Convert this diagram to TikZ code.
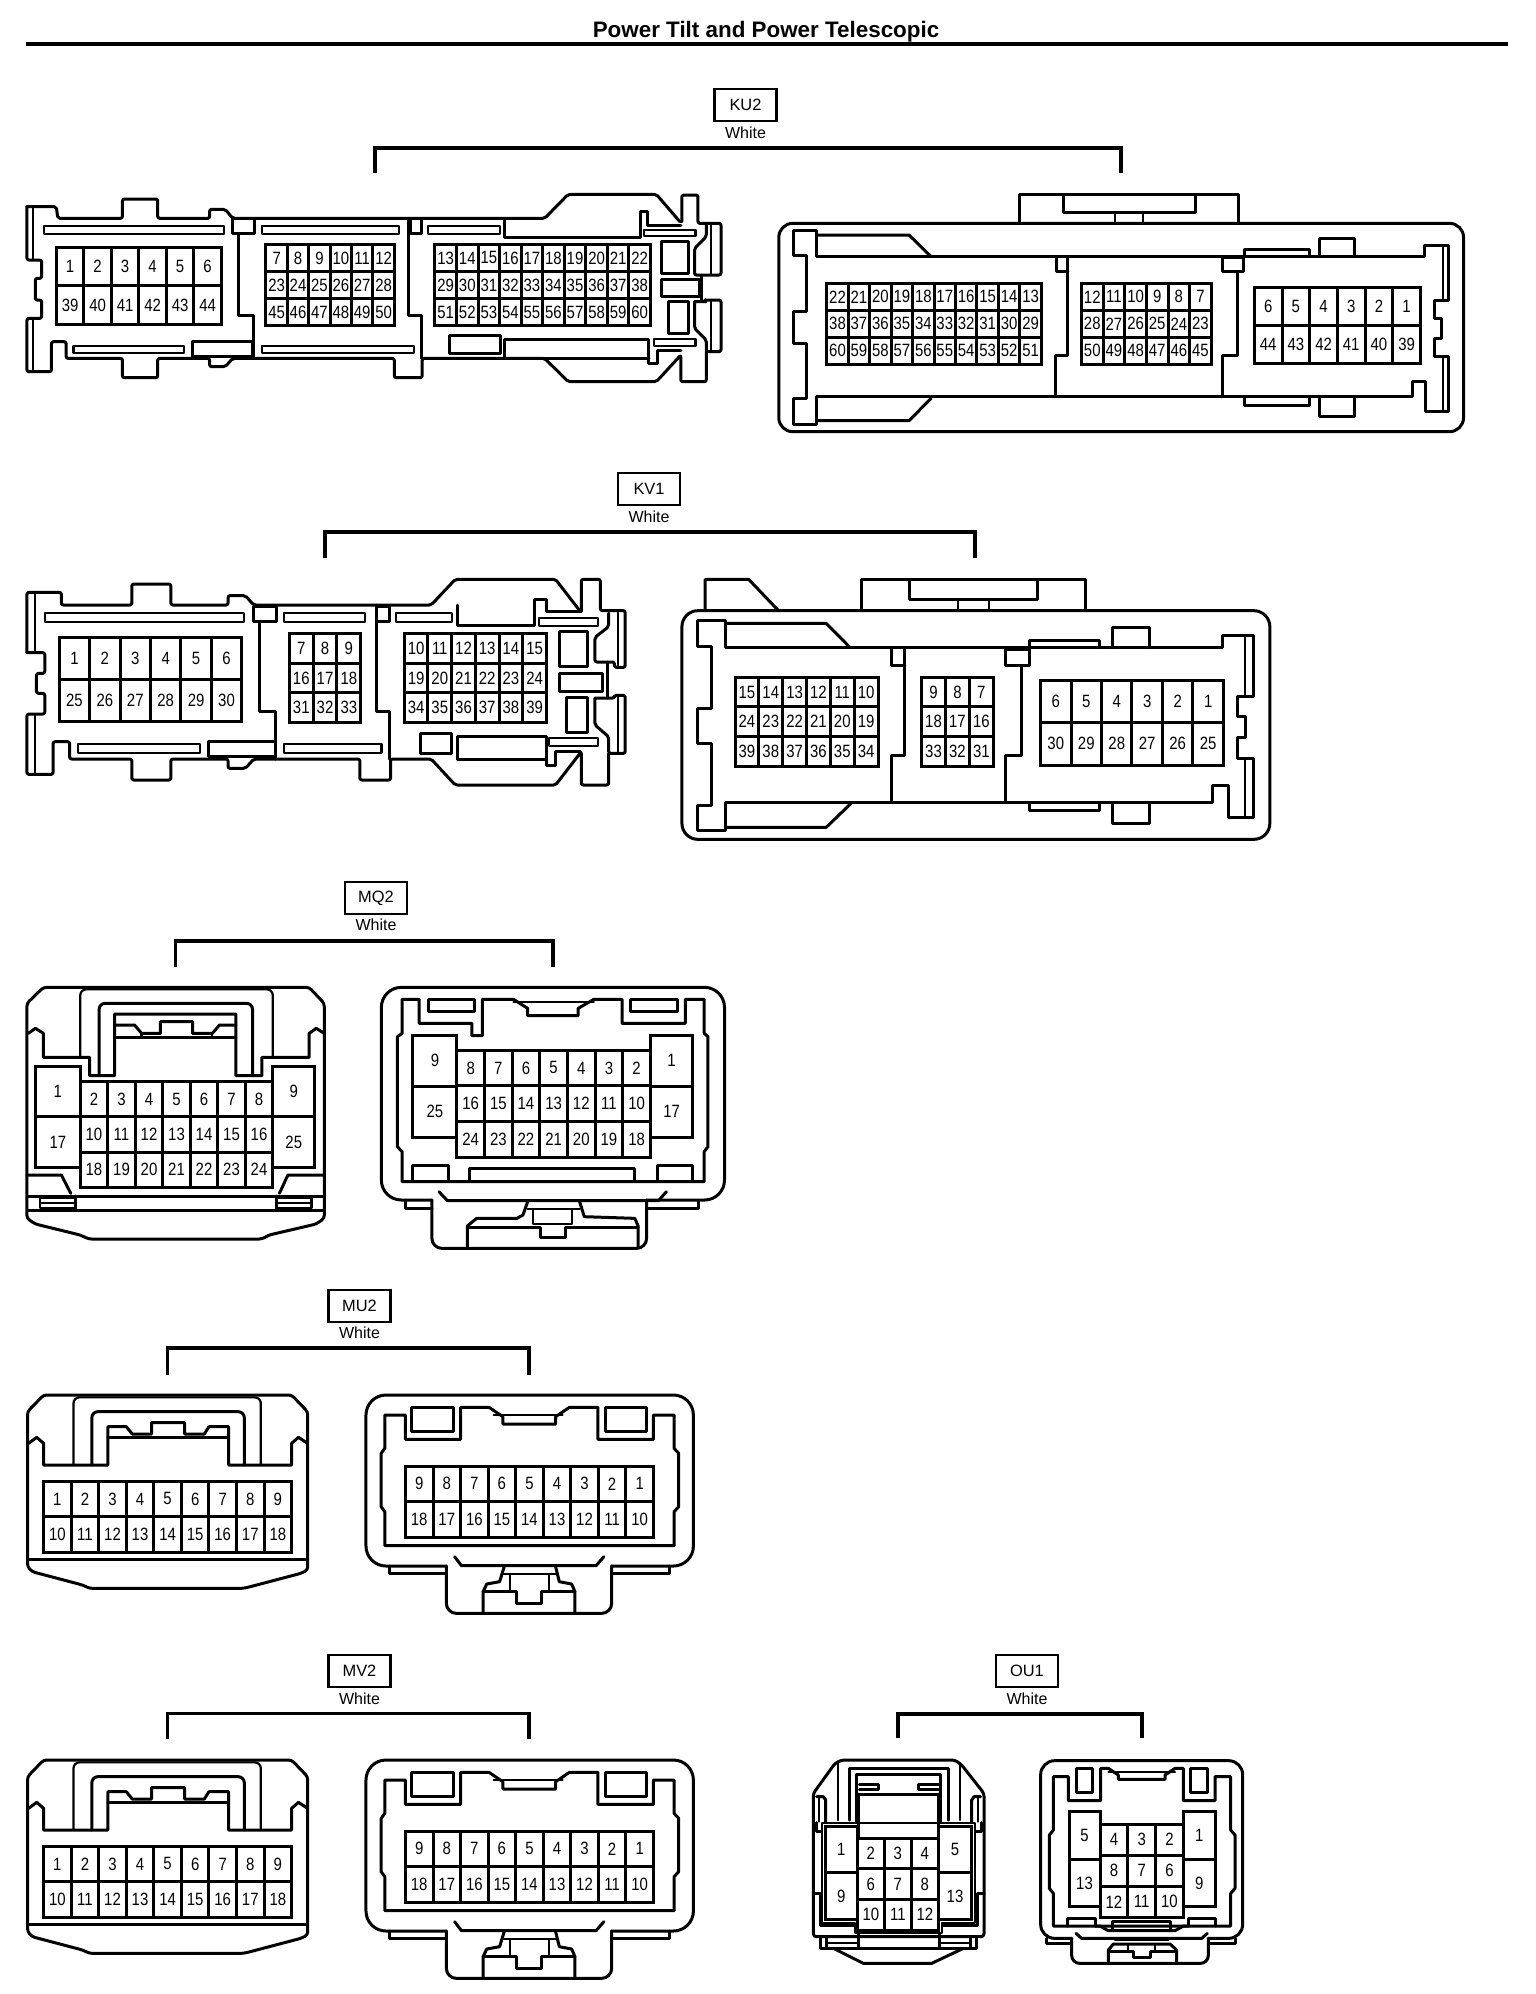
\documentclass[tikz,border=0pt]{standalone}
\usepackage{fontspec}
\usepackage{graphicx}
\setmainfont{Liberation Sans}
\tikzset{
  ln/.style={draw=black,line width=1.5pt,line join=round,line cap=round},
  thn/.style={draw=black,line width=1.1pt,line join=round,line cap=round},
  gr/.style={draw=black,line width=1.5pt,line join=miter},
  pin/.style={inner sep=0pt,font=\fontsize{8.9pt}{9pt}\selectfont,text=black},
  conbox/.style={draw=black,line width=1.3pt,minimum width=31pt,minimum height=16pt,inner sep=0pt,font=\fontsize{8.2pt}{9pt}\selectfont},
  wlabel/.style={inner sep=0pt,font=\fontsize{8pt}{9pt}\selectfont},
  brk/.style={draw=black,line width=1.8pt,line join=miter},
  zone/.style={x=.2449pt,y=-.16667pt},
  zthree/.style={x=.2073pt,y=-.16667pt},
  zfive/.style={x=.236pt,y=-.16667pt},
  zsix/.style={x=.2296pt,y=-.16667pt},
  zeight/.style={x=.16667pt,y=-.16667pt}
}
\newcommand{\pingrid}[8]{%
  \foreach \gi in {0,...,#6}{\draw[gr] ({#2+(#3-#2)*\gi/#6},#4) -- ({#2+(#3-#2)*\gi/#6},#5);}
  \foreach \gj in {0,...,#7}{\draw[gr] (#2,{#4+(#5-#4)*\gj/#7}) -- (#3,{#4+(#5-#4)*\gj/#7});}
  \draw[gr] (#2,#4) rectangle (#3,#5);
  \foreach \lab [count=\idx from 0] in {#8}{
    \pgfmathtruncatemacro\cc{mod(\idx,#6)}
    \pgfmathtruncatemacro\rr{int((\idx+.5)/#6)}
    \node[pin] (#1-\lab) at ({#2+(#3-#2)*(\cc+.5)/#6},{#4+(#5-#4)*(\rr+.5)/#7}) {\scalebox{.84}[1]{\lab}};
  }
}
\newcommand{\thinslot}[4]{\draw[thn] (#1,#2) rectangle (#3,#4);}
% label box, colour word and bracket, in reference pixels
\newcommand{\conhead}[8]{%
  \node[conbox] (#1box) at (#2,#3) {#1};
  \node[wlabel] (#1white) at (#2,#4) {White};
  \coordinate (#1a) at (#5,#8);
  \coordinate (#1b) at (#5,#7);
  \coordinate (#1c) at (#6,#7);
  \coordinate (#1d) at (#6,#8);
  \draw[brk] (#1a) -- (#1b) -- (#1c) -- (#1d);
}
% the pair of 18-way connectors
\newcommand{\muconn}[1]{%
  \draw[ln,rounded corners=1.5pt] (60,395)--(95,345)--(635,345)--(670,395)--(670,870)--(655,880)--(545,920)--(530,925)--(195,925)--(180,915)--(70,875)--(60,860)--cycle;
  \draw[ln] (62,490)--(80,472)--(95,490)--(95,555)--(235,555)--(235,440)--(275,440)--(288,462)--(330,462)--(330,428)--(402,428)--(402,462)--(445,462)--(455,440)--(498,440)--(498,555)--(635,555)--(635,490)--(650,472)--(670,490);
  \draw[thn,rounded corners=3pt] (160,555)--(160,352)--(568,352)--(568,555);
  \draw[ln,rounded corners=3pt] (200,555)--(200,395)--(532,395)--(532,555);
  \draw[ln] (235,473)--(498,473);
  \draw[ln] (60,838)--(670,838);
  \pingrid{#1a}{95}{635}{603}{818}{9}{2}{1,2,3,4,5,6,7,8,9,10,11,12,13,14,15,16,17,18}
  \draw[ln] (848,858)--(848,880)--(972,880);
  \draw[ln] (1332,880)--(1458,880)--(1458,858);
  \draw[ln,rounded corners=10pt] (972,858)--(797,858)--(797,345)--(1510,345)--(1510,858)--(1332,858);
  \draw[ln,rounded corners=5pt] (972,858)--(972,1000)--(1332,1000)--(1332,858);
  \draw[ln] (838,405)--(883,405)--(883,478)--(1003,478)--(1003,382)--(1065,382)--(1095,410)--(1095,432)--(1210,432)--(1210,410)--(1240,382)--(1302,382)--(1302,478)--(1423,478)--(1423,405)--(1468,405)--(1468,505)--(1478,520)--(1478,680)--(1468,695)--(1468,797)--(838,797)--(838,695)--(830,680)--(830,520)--(838,505)--cycle;
  \draw[ln] (897,382) rectangle (988,455);
  \draw[ln] (1318,382) rectangle (1408,455);
  \draw[thn] (1075,405)--(1225,405);
  \pingrid{#1b}{883}{1423}{558}{772}{9}{2}{9,8,7,6,5,4,3,2,1,18,17,16,15,14,13,12,11,10}
  \draw[ln] (990,830)--(1005,857)--(1298,857)--(1315,830);
  \draw[ln] (1098,860)--(1088,905)--(1060,912)--(1052,935)--(1052,998);
  \draw[ln] (1210,860)--(1218,905)--(1245,912)--(1252,935)--(1252,998);
  \draw[ln] (1052,935)--(1125,935)--(1125,970)--(1180,970)--(1180,935)--(1252,935);
  \draw[thn] (1110,885)--(1110,935);
  \draw[thn] (1195,885)--(1195,935);
  \draw[thn] (1095,882)--(1212,882);
}
\begin{document}
\begin{tikzpicture}[x=.5pt,y=-.5pt]
\useasboundingbox (0,0) rectangle (1536,1994);
\fill[white] (0,0) rectangle (1536,1994);
\node[inner sep=0pt,font=\fontsize{11.2pt}{12pt}\selectfont\bfseries] (title) at (766,32) {Power Tilt and Power Telescopic};
\coordinate (ruleL) at (26,44);
\coordinate (ruleR) at (1508,44);
\draw[line width=2.4pt] (ruleL) -- (ruleR);
\conhead{KU2}{745.5}{105}{133}{375}{1121}{148}{173}
\conhead{KV1}{649}{489}{517}{325}{975}{532}{558}
\conhead{MQ2}{376}{898}{925}{175.5}{553}{941}{967}
\conhead{MU2}{359.5}{1306}{1333}{167.6}{529}{1348}{1374.5}
\conhead{MV2}{359.5}{1671}{1699}{167.6}{529}{1713.5}{1738.5}
\conhead{OU1}{1027}{1671}{1699}{898}{1142}{1714}{1738}

% ---------- KU2 left
\begin{scope}[zone]
\draw[ln,rounded corners=1pt] (55,620)--(115,620)--(118,655)--(250,655)--(250,597)--(322,597)--(322,655)--(428,655)--(428,628)--(460,628)--(475,655)--(1112,655)--(1160,583)--(1340,583)--(1388,665);
\draw[ln,rounded corners=1pt] (1392,665)--(1392,585)--(1425,585)--(1425,670)--(1472,670)--(1472,825)--(1418,825)--(1418,745)--(1442,710)--(1442,672);
\draw[ln] (1432,825)--(1432,905);
\draw[ln,rounded corners=1pt] (1418,905)--(1440,905)--(1440,900)--(1472,900)--(1472,1055)--(1442,1055)--(1442,1020)--(1418,985)--(1418,905);
\draw[ln,rounded corners=1pt] (1442,1055)--(1442,1145)--(1390,1145)--(1390,1065)--(1340,1145)--(1160,1145)--(1112,1075)--(862,1075)--(862,1133)--(805,1133)--(805,1075)--(475,1075)--(460,1100)--(428,1100)--(428,1075)--(322,1075)--(322,1133)--(250,1133)--(250,1075)--(135,1075)--(135,1025)--(105,1025)--(105,1115)--(55,1115)--(55,955)--(85,955)--(85,900)--(72,900)--(72,835)--(85,835)--(85,780)--(55,780)--(55,620);
\draw[thn] (68,625)--(68,780);
\draw[thn] (68,955)--(68,1112);
\draw[thn] (1452,672)--(1452,825);
\draw[thn] (1452,902)--(1452,1055);
\thinslot{90}{678}{457}{702}
\thinslot{150}{1037}{375}{1060}
\thinslot{535}{678}{815}{702}
\thinslot{535}{1037}{845}{1060}
\thinslot{873}{678}{1020}{702}
\draw[ln] (475,655) rectangle (520,700);
\draw[ln] (487,700)--(487,945)--(518,945)--(518,1075);
\draw[ln] (392,1025) rectangle (515,1068);
\draw[ln] (838,655) rectangle (860,700);
\draw[ln] (835,655)--(835,945)--(860,945)--(860,1075);
\draw[ln] (1030,655)--(1030,712)--(1308,712)--(1308,635)--(1322,635)--(1322,675)--(1390,675);
\thinslot{1315}{690}{1420}{708}
\draw[ln] (1350,725) rectangle (1405,820);
\draw[ln] (1350,838) rectangle (1428,888);
\draw[ln] (1365,905) rectangle (1405,1000);
\draw[ln] (918,1005) rectangle (1022,1060);
\draw[ln] (1030,1075)--(1030,1018)--(1325,1018)--(1325,1090)--(1342,1090)--(1342,1050)--(1390,1050);
\draw[ln] (1030,1075)--(1325,1075);
\thinslot{1335}{1018}{1420}{1037}
\pingrid{ku2a}{115}{452}{742}{973}{6}{2}{1,2,3,4,5,6,39,40,41,42,43,44}
\pingrid{ku2b}{543}{805}{733}{977}{6}{3}{7,8,9,10,11,12,23,24,25,26,27,28,45,46,47,48,49,50}
\pingrid{ku2c}{888}{1328}{733}{977}{10}{3}{13,14,15,16,17,18,19,20,21,22,29,30,31,32,33,34,35,36,37,38,51,52,53,54,55,56,57,58,59,60}
\end{scope}

% ---------- KU2 right
\begin{scope}[zone,xshift=384pt]
\draw[ln,rounded corners=7pt] (22,670) rectangle (1420,1295);
\draw[ln] (513,670)--(513,583)--(960,583)--(960,670);
\draw[ln] (603,588)--(603,638)--(873,638)--(873,588);
\draw[thn] (708,638)--(708,668);
\draw[thn] (766,638)--(766,668);
\draw[ln] (52,692)--(100,692)--(100,770)--(1340,770)--(1340,735)--(1390,735)--(1390,900)--(1360,900)--(1360,955)--(1375,955)--(1375,1015)--(1360,1015)--(1360,1070)--(1390,1070)--(1390,1235)--(1342,1235)--(1342,1145)--(1315,1145)--(1315,1190)--(100,1190)--(100,1272)--(52,1272)--(52,1195)--(78,1195)--(78,1030)--(52,1030)--(52,935)--(78,935)--(78,765)--(52,765)--cycle;
\draw[ln] (100,705)--(288,705)--(333,770);
\draw[ln] (100,1262)--(288,1262)--(333,1195);
\draw[ln] (588,772)--(588,815)--(612,815);
\draw[ln] (612,772)--(612,1065)--(586,1065)--(586,1190);
\draw[ln] (928,772) rectangle (970,815);
\draw[ln] (958,815)--(958,1065)--(928,1065)--(928,1190);
\draw[ln] (972,770)--(972,748)--(1105,748)--(1105,770);
\draw[ln] (1125,770)--(1125,715)--(1197,715)--(1197,770);
\draw[ln] (972,1190)--(972,1215)--(1105,1215)--(1105,1190);
\draw[ln] (1125,1190)--(1125,1248)--(1197,1248)--(1197,1190);
\draw[thn] (1378,738)--(1378,900);
\draw[thn] (1378,1070)--(1378,1232);
\pingrid{ku2d}{120}{558}{850}{1093}{10}{3}{22,21,20,19,18,17,16,15,14,13,38,37,36,35,34,33,32,31,30,29,60,59,58,57,56,55,54,53,52,51}
\pingrid{ku2e}{640}{905}{850}{1093}{6}{3}{12,11,10,9,8,7,28,27,26,25,24,23,50,49,48,47,46,45}
\pingrid{ku2f}{993}{1332}{862}{1090}{6}{2}{6,5,4,3,2,1,44,43,42,41,40,39}
\end{scope}

% ---------- KV1 left
\begin{scope}[zthree,yshift=-230pt]
\draw[ln,rounded corners=1pt] (65,578)--(65,397)--(148,397)--(148,435)--(318,435)--(318,372)--(412,372)--(412,435)--(550,435)--(550,407)--(592,407)--(612,435)--(1040,435)--(1098,358)--(1340,358)--(1400,455);
\draw[ln,rounded corners=1pt] (1402,455)--(1402,358)--(1448,358)--(1448,452)--(1508,452)--(1508,622)--(1482,622)--(1482,606)--(1435,606)--(1435,532)--(1468,500)--(1468,460);
\draw[ln] (1465,606)--(1465,714);
\draw[ln,rounded corners=1pt] (1435,714)--(1482,714)--(1482,706)--(1508,706)--(1508,880)--(1468,880)--(1468,830)--(1435,795)--(1435,714);
\draw[ln,rounded corners=1pt] (1468,880)--(1468,975)--(1402,975)--(1402,875)--(1340,975)--(1098,975)--(1040,897)--(942,897)--(942,960)--(868,960)--(868,897)--(612,897)--(592,925)--(550,925)--(550,897)--(412,897)--(412,960)--(318,960)--(318,897)--(168,897)--(168,845)--(128,845)--(128,943)--(65,943)--(65,762)--(108,762)--(108,700)--(88,700)--(88,640)--(108,640)--(108,578)--(65,578);
\draw[thn] (85,402)--(85,575);
\draw[thn] (85,765)--(85,940);
\draw[thn] (1490,458)--(1490,620);
\draw[thn] (1490,708)--(1490,880);
\thinslot{108}{460}{588}{485}
\thinslot{188}{853}{482}{880}
\thinslot{685}{460}{880}{485}
\thinslot{685}{853}{920}{880}
\thinslot{955}{460}{1090}{485}
\draw[ln] (612,440) rectangle (668,485);
\draw[ln] (625,485)--(625,755)--(665,755)--(665,897);
\draw[ln] (502,845) rectangle (665,890);
\draw[ln] (908,440) rectangle (940,485);
\draw[ln] (908,435)--(908,755)--(940,755)--(940,897);
\draw[ln] (1103,435)--(1103,497)--(1290,497)--(1290,418)--(1318,418)--(1318,455)--(1400,455);
\thinslot{1300}{475}{1442}{497}
\draw[ln] (1350,515) rectangle (1418,618);
\draw[ln] (1350,640) rectangle (1452,693);
\draw[ln] (1367,712) rectangle (1418,818);
\draw[ln] (1015,820) rectangle (1090,880);
\draw[ln] (1103,897)--(1103,830)--(1318,830)--(1318,915)--(1340,915)--(1340,875)--(1400,875);
\draw[ln] (1103,897)--(1318,897);
\thinslot{1325}{835}{1442}{858}
\pingrid{kv1a}{143}{583}{533}{785}{6}{2}{1,2,3,4,5,6,25,26,27,28,29,30}
\pingrid{kv1b}{698}{870}{520}{788}{3}{3}{7,8,9,16,17,18,31,32,33}
\pingrid{kv1c}{975}{1318}{520}{788}{6}{3}{10,11,12,13,14,15,19,20,21,22,23,24,34,35,36,37,38,39}
\end{scope}

% ---------- KV1 right
\begin{scope}[zthree,xshift=325pt,yshift=-230pt]
\draw[ln,rounded corners=8pt] (77,452) rectangle (1495,1138);
\draw[ln] (510,452)--(510,358)--(1050,358)--(1050,452);
\draw[ln] (625,362)--(625,417)--(935,417)--(935,362);
\draw[thn] (743,417)--(743,450);
\draw[thn] (818,417)--(818,450);
\draw[ln] (133,452)--(133,358)--(238,358)--(310,452);
\draw[ln] (115,480)--(182,480)--(182,563)--(1380,563)--(1380,527)--(1455,527)--(1455,708)--(1418,708)--(1418,770)--(1437,770)--(1437,832)--(1418,832)--(1418,895)--(1455,895)--(1455,1072)--(1395,1072)--(1395,975)--(1357,975)--(1357,1028)--(182,1028)--(182,1112)--(115,1112)--(115,1035)--(148,1035)--(148,850)--(115,850)--(115,745)--(148,745)--(148,558)--(115,558)--cycle;
\draw[ln] (182,490)--(425,490)--(483,563);
\draw[ln] (182,1102)--(425,1102)--(485,1030);
\draw[ln] (582,568)--(582,617)--(615,617);
\draw[ln] (615,568)--(615,885)--(582,885)--(582,1028);
\draw[ln] (858,568) rectangle (915,617);
\draw[ln] (897,617)--(897,885)--(858,885)--(858,1028);
\draw[ln] (915,563)--(915,540)--(1085,540)--(1085,563);
\draw[ln] (1115,563)--(1115,503)--(1205,503)--(1205,563);
\draw[ln] (915,1028)--(915,1052)--(1085,1052)--(1085,1028);
\draw[ln] (1115,1028)--(1115,1090)--(1205,1090)--(1205,1028);
\draw[thn] (1435,530)--(1435,708);
\draw[thn] (1435,895)--(1435,1068);
\pingrid{kv1d}{205}{550}{652}{918}{6}{3}{15,14,13,12,11,10,24,23,22,21,20,19,39,38,37,36,35,34}
\pingrid{kv1e}{655}{828}{652}{918}{3}{3}{9,8,7,18,17,16,33,32,31}
\pingrid{kv1f}{942}{1383}{660}{915}{6}{2}{6,5,4,3,2,1,30,29,28,27,26,25}
\end{scope}

% ---------- MQ2
\begin{scope}[zfive,yshift=-435pt]
\draw[ln,rounded corners=1.5pt] (57,400)--(92,352)--(655,352)--(687,400)--(687,1045)--(670,1062)--(570,1095)--(555,1107)--(188,1107)--(170,1095)--(75,1062)--(57,1045)--cycle;
\draw[thn,rounded corners=3pt] (170,562)--(170,358)--(578,358)--(578,562);
\draw[ln] (60,490)--(75,475)--(92,490)--(92,562)--(190,562)--(190,617)--(243,617)--(243,432)--(500,432)--(500,617)--(555,617)--(555,562)--(655,562)--(655,490)--(670,475)--(687,490);
\draw[ln,rounded corners=3pt] (210,617)--(210,400)--(535,400)--(535,617);
\draw[ln] (243,465)--(285,465)--(300,490)--(340,490)--(340,455)--(408,455)--(408,490)--(450,490)--(465,465)--(500,465);
\draw[ln] (243,503)--(500,503);
\draw[thn] (300,490)--(300,503);
\draw[thn] (450,490)--(450,503);
\draw[ln] (57,915)--(130,915)--(150,970);
\draw[ln] (687,915)--(610,915)--(592,970);
\draw[ln] (60,978)--(685,978);
\draw[ln] (60,1022)--(685,1022);
\draw[ln] (160,978)--(160,1022);
\draw[ln] (585,978)--(585,1022);
\draw[thn] (85,985) rectangle (160,1015);
\draw[thn] (85,1000)--(160,1000);
\draw[thn] (585,985) rectangle (660,1015);
\draw[thn] (585,1000)--(660,1000);
\pingrid{mq2a}{75}{170}{588}{892}{1}{2}{1,17}
\pingrid{mq2b}{578}{667}{588}{892}{1}{2}{9,25}
\pingrid{mq2c}{170}{578}{635}{952}{7}{3}{2,3,4,5,6,7,8,10,11,12,13,14,15,16,18,19,20,21,22,23,24}
\draw[ln] (915,1015)--(860,1015)--(860,990);
\draw[ln] (1370,1015)--(1480,1015)--(1480,990);
\draw[ln,rounded corners=10pt] (915,990)--(808,990)--(808,352)--(1535,352)--(1535,990)--(1370,990);
\draw[ln,rounded corners=5pt] (915,990)--(915,1135)--(1370,1135)--(1370,990);
\draw[ln] (852,388)--(888,388)--(888,460)--(1000,460)--(1000,497)--(1022,497)--(1022,388)--(1088,388)--(1118,415)--(1118,437)--(1225,437)--(1225,415)--(1258,388)--(1318,388)--(1318,460)--(1452,460)--(1452,388)--(1492,388)--(1492,490)--(1500,500)--(1500,830)--(1492,845)--(1492,935)--(852,935)--(852,845)--(842,830)--(842,500)--(852,490)--cycle;
\draw[ln] (908,388) rectangle (1005,425);
\draw[ln] (1335,388) rectangle (1435,425);
\draw[thn] (1088,397)--(1258,397);
\draw[ln] (875,935)--(875,885)--(950,885)--(950,935);
\draw[ln] (1392,935)--(1392,885)--(1468,885)--(1468,935);
\draw[ln] (995,935)--(995,895)--(1345,895)--(1345,935);
\pingrid{mq2d}{875}{968}{495}{802}{1}{2}{9,25}
\pingrid{mq2e}{1378}{1468}{495}{802}{1}{2}{1,17}
\pingrid{mq2f}{968}{1378}{540}{862}{7}{3}{8,7,6,5,4,3,2,16,15,14,13,12,11,10,24,23,22,21,20,19,18}
\draw[ln] (930,965)--(948,992)--(1395,992)--(1412,965);
\draw[ln] (1118,995)--(1108,1035)--(1095,1045)--(1010,1045)--(990,1068)--(990,1132);
\draw[ln] (1228,995)--(1238,1040)--(1345,1045)--(1352,1068)--(1352,1132);
\draw[ln] (990,1072)--(1145,1072)--(1145,1103)--(1198,1103)--(1198,1072)--(1352,1072);
\draw[thn] (1130,1020)--(1130,1062)--(1212,1062)--(1212,1020);
\draw[thn] (1118,1018)--(1228,1018);
\end{scope}

% ---------- MU2 and MV2
\begin{scope}[zsix,yshift=-640pt]
\muconn{mu2}
\end{scope}
\begin{scope}[zsix,yshift=-822.5pt]
\muconn{mv2}
\end{scope}

% ---------- OU1
\begin{scope}[zeight,xshift=390pt,yshift=-820pt]
\draw[ln,rounded corners=1.5pt] (100,460)--(165,370)--(185,360)--(525,360)--(545,375)--(612,460)--(612,890)--(100,890)--cycle;
\draw[thn] (175,368)--(175,540);
\draw[thn] (540,368)--(540,540);
\draw[ln] (208,540)--(208,385)--(505,385)--(505,540);
\draw[ln] (228,545)--(228,402)--(482,402)--(482,545);
\draw[ln] (238,432)--(295,432)--(295,448)--(238,448);
\draw[ln] (475,432)--(415,432)--(415,448)--(475,448);
\draw[ln] (235,462)--(478,462);
\draw[ln] (235,462)--(235,590);
\draw[ln] (475,462)--(475,555);
\draw[ln] (110,470)--(130,470)--(137,480)--(137,545);
\draw[ln] (602,470)--(582,470)--(575,480)--(575,545);
\draw[thn] (118,475)--(118,545);
\draw[thn] (594,475)--(594,545);
\draw[thn] (125,550)--(585,550)--(585,850)--(485,850)--(485,878)--(225,878)--(225,850)--(125,850)--cycle;
\draw[ln] (108,548)--(108,575)--(125,575);
\draw[ln] (604,548)--(604,575)--(587,575);
\draw[ln] (100,760)--(120,760)--(120,856)--(222,856);
\draw[ln] (612,760)--(592,760)--(592,856)--(488,856);
\pingrid{ou1a}{135}{232}{558}{838}{1}{2}{1,9}
\pingrid{ou1b}{475}{575}{558}{838}{1}{2}{5,13}
\pingrid{ou1c}{232}{475}{595}{870}{3}{3}{2,3,4,6,7,8,10,11,12}
\draw[ln] (122,890)--(122,925)--(590,925)--(590,890);
\draw[ln] (140,890)--(140,925);
\draw[ln] (572,890)--(572,925);
\draw[thn] (140,908)--(235,908);
\draw[thn] (478,908)--(572,908);
\draw[ln] (235,880)--(235,925);
\draw[ln] (478,880)--(478,925);
\draw[ln] (160,925)--(250,970)--(455,970)--(550,925);
\draw[ln] (800,895)--(800,910)--(875,910);
\draw[ln] (1285,910)--(1365,910)--(1365,895);
\draw[ln,rounded corners=7pt] (875,895)--(782,895)--(782,362)--(1388,362)--(1388,895)--(1285,895);
\draw[ln,rounded corners=4pt] (875,895)--(875,970)--(1285,970)--(1285,895);
\draw[ln] (820,410)--(865,410)--(865,482)--(962,482)--(962,385)--(985,385)--(1015,405)--(1015,418)--(1155,418)--(1155,405)--(1185,385)--(1210,385)--(1210,482)--(1305,482)--(1305,410)--(1352,410)--(1352,570)--(1365,585)--(1365,745)--(1352,760)--(1352,858)--(820,858)--(820,760)--(808,745)--(808,585)--(820,570)--cycle;
\draw[ln] (888,385) rectangle (938,458);
\draw[ln] (1232,385) rectangle (1282,458);
\draw[thn] (985,395)--(1185,395);
\pingrid{ou1d}{867}{960}{515}{800}{1}{2}{5,13}
\pingrid{ou1e}{1210}{1305}{515}{800}{1}{2}{1,9}
\pingrid{ou1f}{960}{1210}{552}{832}{3}{3}{4,3,2,8,7,6,12,11,10}
\draw[ln] (862,858)--(862,835)--(945,835)--(945,858);
\draw[ln] (1225,858)--(1225,835)--(1305,835)--(1305,858);
\draw[ln] (998,870)--(998,845)--(1170,845)--(1170,870)--cycle;
\draw[ln] (945,858)--(960,858)--(985,872)--(1185,872)--(1210,858)--(1225,858);
\draw[ln] (888,880)--(905,895)--(1265,895)--(1282,880);
\draw[thn] (1005,900)--(1165,900);
\draw[ln] (985,965)--(985,930)--(1000,912)--(1170,912)--(1190,930)--(1190,965);
\draw[ln] (985,935)--(1060,935)--(1060,952)--(1110,952)--(1110,935)--(1190,935);
\draw[thn] (1045,912)--(1045,935);
\draw[thn] (1125,912)--(1125,935);
\end{scope}
\end{tikzpicture}
\end{document}
